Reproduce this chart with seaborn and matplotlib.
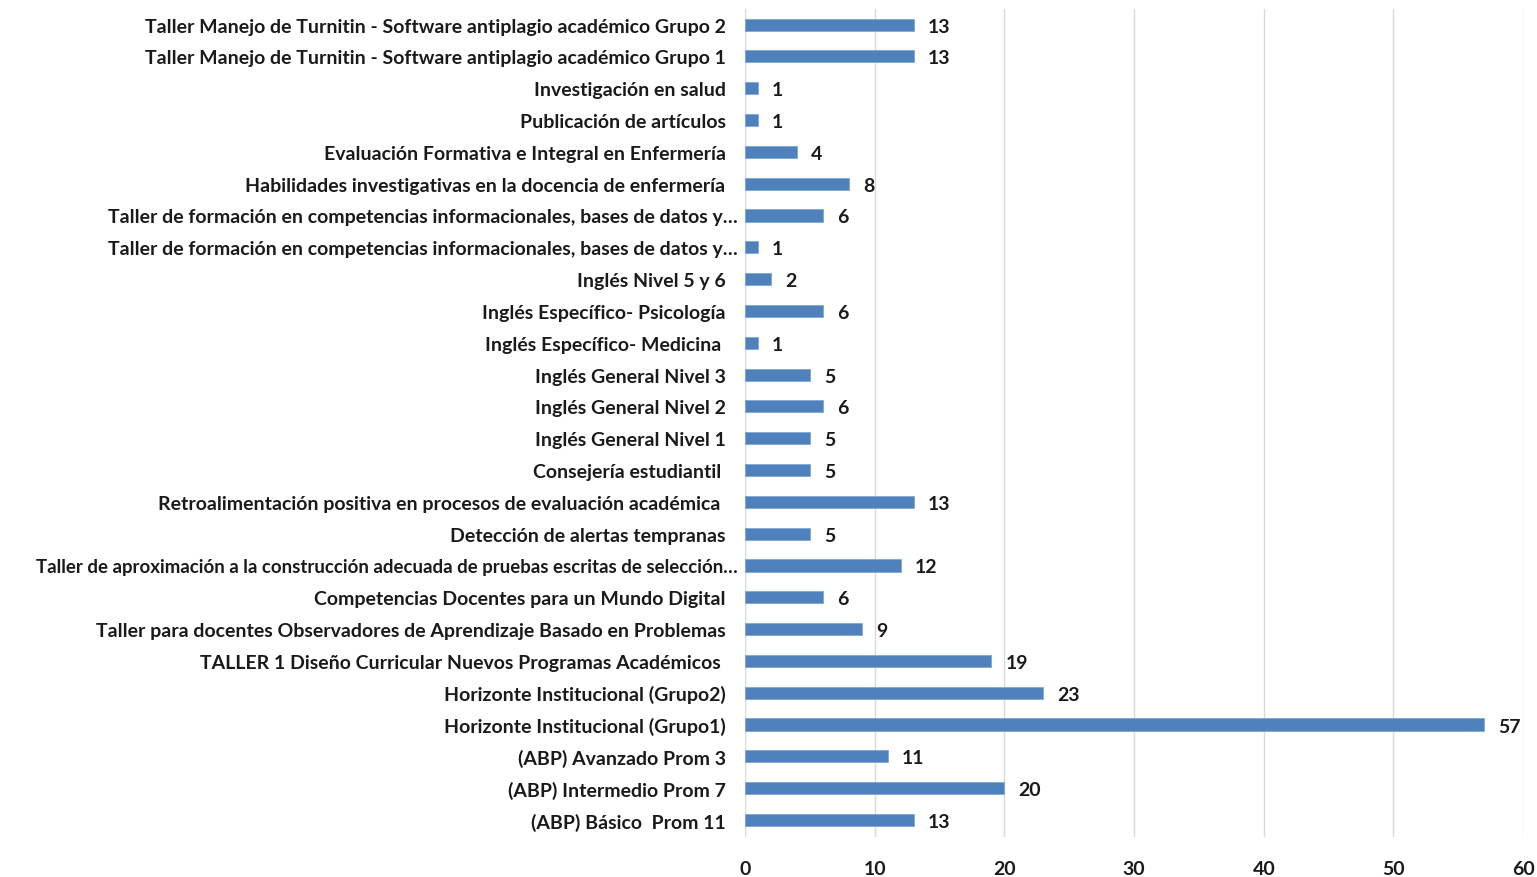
import numpy as np
import pandas as pd
import seaborn as sns
import matplotlib.pyplot as plt
from matplotlib.transforms import ScaledTranslation

cursos = [
    'Taller Manejo de Turnitin - Software antiplagio académico Grupo 2',
    'Taller Manejo de Turnitin - Software antiplagio académico Grupo 1',
    'Investigación en salud',
    'Publicación de artículos',
    'Evaluación Formativa e Integral en Enfermería',
    'Habilidades investigativas en la docencia de enfermería',
    'Taller de formación en competencias informacionales, bases de datos y…',
    'Taller de formación en competencias informacionales, bases de datos y…',
    'Inglés Nivel 5 y 6',
    'Inglés Específico- Psicología',
    'Inglés Específico- Medicina ',
    'Inglés General Nivel 3',
    'Inglés General Nivel 2',
    'Inglés General Nivel 1',
    'Consejería estudiantil ',
    'Retroalimentación positiva en procesos de evaluación académica ',
    'Detección de alertas tempranas',
    'Taller de aproximación a la construcción adecuada de pruebas escritas de selección…',
    'Competencias Docentes para un Mundo Digital',
    'Taller para docentes Observadores de Aprendizaje Basado en Problemas',
    'TALLER 1 Diseño Curricular Nuevos Programas Académicos ',
    'Horizonte Institucional (Grupo2)',
    'Horizonte Institucional (Grupo1)',
    '(ABP) Avanzado Prom 3',
    '(ABP) Intermedio Prom 7',
    '(ABP) Básico  Prom 11',
]
participantes = [13, 13, 1, 1, 4, 8, 6, 1, 2, 6, 1, 5, 6, 5, 5, 13, 5, 12, 6, 9, 19, 23, 57, 11, 20, 13]
x_ticks = [0, 10, 20, 30, 40, 50, 60]

# ids unicos porque hay nombres repetidos
df = pd.DataFrame({'id': [str(i) for i in range(len(cursos))],
                   'curso': cursos, 'n': participantes})

sns.set_style('white')
plt.rcParams['font.family'] = ['Lato', 'DejaVu Sans']

fig = plt.figure(figsize=(15.37, 8.78), dpi=100)
ax = fig.add_axes([0.4847, 0.045, 0.5063, 0.944])

sns.barplot(data=df, x='n', y='id', order=df['id'], color='#4F81BD',
            width=0.38, saturation=1, edgecolor='#7EA6D8', linewidth=0.6, ax=ax)

for i, v in enumerate(df['n']):
    ax.text(v + 1.1, i, str(v), va='center_baseline', ha='left', fontsize=14,
            fontweight='bold', color='#1a1a1a')

ax.set_xlim(0, 60)
ax.set_ylim(len(cursos) - 0.45, -0.5)
ax.set_xticks(x_ticks)
ax.set_yticks(range(len(cursos)))
ax.set_yticklabels(df['curso'])
ax.tick_params(axis='y', length=0, pad=14, labelsize=14)
ax.tick_params(axis='x', length=0, pad=16, labelsize=14)
for lab in ax.get_yticklabels() + ax.get_xticklabels():
    lab.set_fontweight('bold')
    lab.set_color('#1a1a1a')

# las etiquetas truncadas llegan casi hasta la barra
for lab in ax.get_yticklabels():
    if lab.get_text().endswith('…'):
        lab.set_transform(lab.get_transform() + ScaledTranslation(0.12, 0, fig.dpi_scale_trans))
        if lab.get_text().startswith('Taller de aprox'):
            lab.set_fontsize(13.4)

ax.set_xlabel('')
ax.set_ylabel('')
ax.xaxis.grid(True, color='#D9D9D9', linewidth=1)
ax.set_axisbelow(True)
for s in ['top', 'right', 'bottom', 'left']:
    ax.spines[s].set_visible(False)

fig.savefig('out.png', dpi=100)
